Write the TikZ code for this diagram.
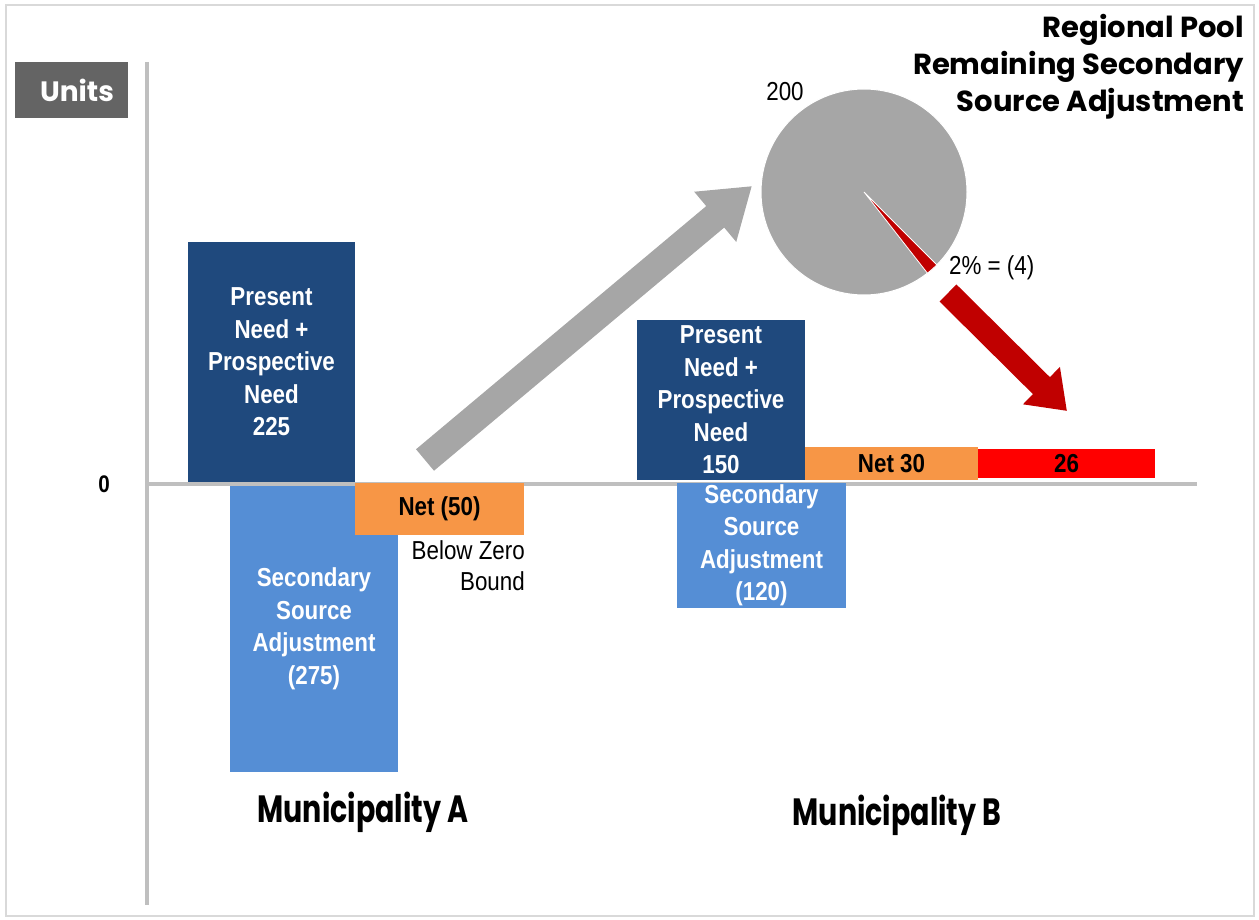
\documentclass[tikz,border=0pt]{standalone}
\usepackage{fontspec}
\usepackage{xcolor}
\usepackage{tikz}
\usetikzlibrary{arrows.meta,positioning}
\setmainfont{Liberation Sans}
\newfontfamily\narrowfont[FakeStretch=0.86]{Liberation Sans}
\newfontfamily\gothicfont{Poppins}
\newfontfamily\gothicnarrow[FakeStretch=0.75]{Poppins}
\definecolor{needblue}{RGB}{31,73,125}
\definecolor{adjblue}{RGB}{85,142,213}
\definecolor{netorange}{RGB}{247,150,70}
\definecolor{poolgray}{RGB}{166,166,166}
\definecolor{axisgray}{RGB}{191,191,191}
\definecolor{unitgray}{RGB}{100,100,100}
\definecolor{arrowred}{RGB}{192,0,0}

\begin{document}
\begin{tikzpicture}[x=1pt,y=-1pt,
    bar/.style={anchor=north west, inner sep=0pt, outer sep=0pt, align=center,
        font=\narrowfont\bfseries\fontsize{26}{32.5}\selectfont},
    needbar/.style={bar, fill=needblue, text=white},
    adjbar/.style={bar, fill=adjblue, text=white},
    netbar/.style={bar, fill=netorange, text=black},
    note/.style={font=\narrowfont\fontsize{26}{31}\selectfont, inner sep=0pt},
    munlabel/.style={font=\gothicnarrow\bfseries\fontsize{38}{40}\selectfont, inner sep=0pt},
    bigarrow/.style={line width=#1, -{Triangle[length=48pt,width=62pt]}}]
    \useasboundingbox (0,0) rectangle (1259,920);
    \draw[gray!30, line width=1.5pt] (6,5) rectangle (1254,916);

    % Axes
    \draw[axisgray, line width=4pt] (147,62) -- (147,905);
    \draw[axisgray, line width=4pt] (147,484) -- (1197,484);
    \node[fill=unitgray, text=white, minimum width=113pt, minimum height=56pt, inner sep=0pt,
        font=\gothicfont\bfseries\fontsize{28}{30}\selectfont] (units) at (71,90) {\hspace*{12pt}Units};
    \node[font=\narrowfont\bfseries\fontsize{24}{28}\selectfont] (zero) at (104,484) {0};

    % Municipality A
    \node[needbar, minimum width=167pt, minimum height=240pt] (needA) at (188,242)
        {Present\\Need +\\Prospective\\Need\\225};
    \node[adjbar, minimum width=168pt, minimum height=286pt] (adjA) at (230,486)
        {Secondary\\Source\\Adjustment\\(275)};
    \node[netbar, minimum width=169pt, minimum height=52pt] (netA) at (355,483) {Net (50)};
    \node[note, align=right, anchor=north east] (below) at (525,540) {Below Zero\\Bound};
    \node[munlabel] (munA) at (363,812) {Municipality A};

    % Municipality B
    \node[needbar, minimum width=168pt, minimum height=160pt] (needB) at (637,320)
        {Present\\Need +\\Prospective\\Need\\150};
    \node[adjbar, minimum width=169pt, minimum height=125pt] (adjB) at (677,483)
        {Secondary\\Source\\Adjustment\\(120)};
    \node[netbar, minimum width=173pt, minimum height=33pt] (netB) at (805,447) {Net 30};
    \node[netbar, fill=red, minimum width=177pt, minimum height=29pt] (shareB) at (978,449) {26};
    \node[munlabel] (munB) at (897,815) {Municipality B};

    % Regional pool
    \coordinate (pool) at (864,192);
    \fill[poolgray] (pool) circle (103);
    \draw[white, line width=1pt] (pool) circle (103);
    \fill[arrowred, draw=white, line width=0.8pt] (pool) -- ++(45:103) arc[start angle=45, end angle=52, radius=103] -- cycle;
    \node[note] (total) at (785,92) {200};
    \node[note, anchor=west] (share) at (949,268) {2\% = (4)};
    \node[font=\gothicfont\bfseries\fontsize{29}{37}\selectfont, align=right, anchor=north east, inner sep=0pt]
        (title) at (1244,14) {Regional Pool\\Remaining Secondary\\Source Adjustment};

    % Flows to and from the pool
    \coordinate (outA) at (425,460);
    \coordinate (inPool) at (752,186);
    \coordinate (outPool) at (948,293);
    \coordinate (inB) at (1067,411);
    \draw[poolgray, bigarrow=28pt] (outA) -- (inPool);
    \draw[arrowred, line width=24pt, -{Triangle[length=36pt,width=50pt]}] (outPool) -- (inB);
\end{tikzpicture}
\end{document}
